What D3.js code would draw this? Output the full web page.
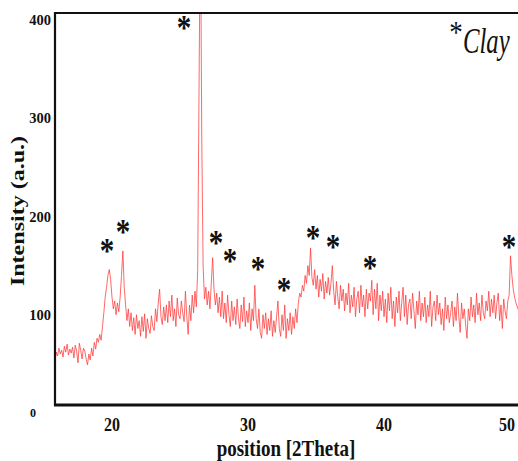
<!DOCTYPE html>
<html>
<head>
<meta charset="utf-8" />
<title>XRD pattern - Clay</title>
<script src="https://cdnjs.cloudflare.com/ajax/libs/d3/7.8.5/d3.min.js"></script>
<style>
body { margin: 0; background: #fff; }
text { font-family: "Liberation Serif", "Times New Roman", serif; fill: #111; }
</style>
</head>
<body>
<svg id="chart" width="518" height="461"></svg>
<script>
// scan grid (degrees 2Theta)
const scanStart = 15.8;
const scanStep = 0.1;

// intensity, one value per 0.1 deg from 15.8
const intensity = [
	52, 62,
	58, 66, 60, 64, 57, 68, 62, 70, 59, 65,
	61, 67, 56, 69, 63, 51, 71, 64, 55, 66,
	63, 55, 49, 60, 54, 66, 58, 72, 65, 76,
	72, 80, 74, 88, 102, 118, 128, 140, 146, 136,
	118, 106, 114, 100, 112, 103, 118, 140, 165, 128,
	110, 94, 106, 88, 102, 84, 97, 80, 100, 86,
	94, 78, 98, 83, 101, 76, 96, 86, 81, 99,
	88, 84, 106, 93, 112, 126, 98, 90, 108, 94,
	110, 92, 114, 98, 120, 94, 106, 88, 117, 100,
	96, 114, 102, 93, 124, 98, 80, 110, 94, 120,
	102, 124, 108, 145, 330, 520, 280, 150, 116, 128,
	110, 124, 106, 132, 158, 126, 110, 122, 102, 118,
	98, 124, 96, 112, 92, 120, 100, 88, 114, 94,
	108, 90, 116, 96, 86, 110, 93, 118, 88, 104,
	92, 112, 84, 106, 94, 130, 96, 86, 106, 82,
	76, 100, 86, 102, 80, 96, 84, 104, 78, 94,
	82, 98, 114, 86, 78, 100, 84, 110, 76, 96,
	84, 102, 80, 98, 86, 106, 92, 112, 122, 118,
	130, 124, 140, 132, 150, 140, 168, 138, 130, 146,
	126, 140, 118, 136, 124, 142, 116, 134, 122, 138,
	120, 132, 150, 124, 110, 134, 118, 106, 130, 114,
	126, 104, 122, 110, 132, 102, 120, 108, 128, 98,
	116, 124, 102, 130, 108, 120, 98, 126, 106, 122,
	114, 135, 100, 126, 106, 132, 94, 120, 104, 124,
	98, 116, 92, 122, 104, 128, 96, 114, 88, 118,
	102, 124, 94, 112, 128, 98, 120, 90, 110, 116,
	96, 122, 104, 86, 114, 100, 124, 94, 112, 98,
	118, 92, 110, 98, 124, 88, 108, 114, 94, 120,
	100, 112, 90, 106, 84, 118, 96, 110, 92, 102,
	114, 88, 108, 94, 122, 98, 82, 112, 96, 106,
	90, 76, 106, 94, 118, 98, 110, 92, 122, 100,
	112, 94, 120, 102, 96, 114, 104, 124, 98, 116,
	102, 120, 96, 112, 122, 94, 110, 86, 116, 104,
	96, 114, 120, 160, 140, 126, 118, 112, 108, 104
];

// clay reflections marked with asterisks
const markTheta = [25.29, 19.63, 20.81, 27.65, 28.68, 30.74, 32.65, 34.78, 36.25, 38.97, 49.19];
const markLevel = [396, 169, 189, 177, 159, 151, 130, 183, 173, 152, 173];

const xTicks = [20, 30, 40, 50];
const yTicks = [0, 100, 200, 300, 400];

const svg = d3.select("#chart");
const plotLeft = 55, plotRight = 518, plotTop = 13, plotBottom = 405;

const x = d3.scaleLinear().domain([15.81, 49.85]).range([plotLeft, plotRight]);
const y = d3.scaleLinear().domain([0, 400]).range([413, 20]);

const pts = intensity.map((v, i) => [scanStart + i * scanStep, v]);

svg.append("clipPath").attr("id", "plotclip")
	.append("rect")
	.attr("x", plotLeft).attr("y", plotTop)
	.attr("width", plotRight - plotLeft).attr("height", plotBottom - plotTop);

const line = d3.line().x(d => x(d[0])).y(d => y(d[1]));

svg.append("path")
	.datum(pts)
	.attr("clip-path", "url(#plotclip)")
	.attr("fill", "none")
	.attr("stroke", "#ff3a3a")
	.attr("stroke-opacity", 0.85)
	.attr("stroke-width", 0.9)
	.attr("d", line);

// frame: left, bottom and top lines
svg.append("line").attr("x1", plotLeft).attr("x2", plotRight).attr("y1", plotTop).attr("y2", plotTop)
	.attr("stroke", "#111").attr("stroke-width", 2);
svg.append("line").attr("x1", plotLeft).attr("x2", plotLeft).attr("y1", plotTop - 1).attr("y2", plotBottom + 1)
	.attr("stroke", "#111").attr("stroke-width", 2.2);
svg.append("line").attr("x1", plotLeft - 1).attr("x2", plotRight).attr("y1", plotBottom).attr("y2", plotBottom)
	.attr("stroke", "#111").attr("stroke-width", 2.8);

// y tick labels
svg.append("g").selectAll("text")
	.data(yTicks)
	.enter()
	.append("text")
	.attr("x", d => d == 0 ? 33 : 51)
	.attr("y", d => y(d))
	.attr("dy", "0.35em")
	.attr("text-anchor", d => d == 0 ? "middle" : "end")
	.attr("font-weight", "bold")
	.attr("font-size", d => d == 0 ? 12 : 14.5)
	.text(d => d);

// x tick labels (the last one is held inside the picture)
svg.append("g").selectAll("text")
	.data(xTicks)
	.enter()
	.append("text")
	.attr("transform", d => "translate(" + Math.min(x(d), 507) + ",431) scale(1,1.2)")
	.attr("text-anchor", "middle")
	.attr("font-weight", "bold")
	.attr("font-size", 16)
	.text(d => d);

svg.append("text")
	.attr("transform", "translate(286,456) scale(1,1.2)")
	.attr("text-anchor", "middle")
	.attr("font-weight", "bold")
	.attr("font-size", 19)
	.text("position [2Theta]");

svg.append("text")
	.attr("transform", "translate(24,211) rotate(-90) scale(1.3,1)")
	.attr("text-anchor", "middle")
	.attr("font-weight", "bold")
	.attr("font-size", 18.5)
	.text("Intensity (a.u.)");

// asterisks
svg.append("g").selectAll("g")
	.data(markTheta.map((t, i) => [t, markLevel[i]]))
	.enter()
	.append("g")
	.attr("transform", d => "translate(" + x(d[0]) + "," + y(d[1]) + ") scale(1,1.2)")
	.append("text")
	.attr("text-anchor", "middle")
	.attr("dy", "0.47em")
	.attr("font-weight", "bold")
	.attr("font-size", 29)
	.text("*");

// legend
const legend = svg.append("g").attr("transform", "translate(456,28) scale(1,1.2)");
legend.append("text")
	.attr("text-anchor", "middle")
	.attr("dy", "0.47em")
	.attr("font-size", 27)
	.text("*");
svg.append("text")
	.attr("transform", "translate(463,53) scale(0.95,1.35)")
	.attr("font-style", "italic")
	.attr("font-size", 26)
	.text("Clay");
</script>
</body>
</html>
